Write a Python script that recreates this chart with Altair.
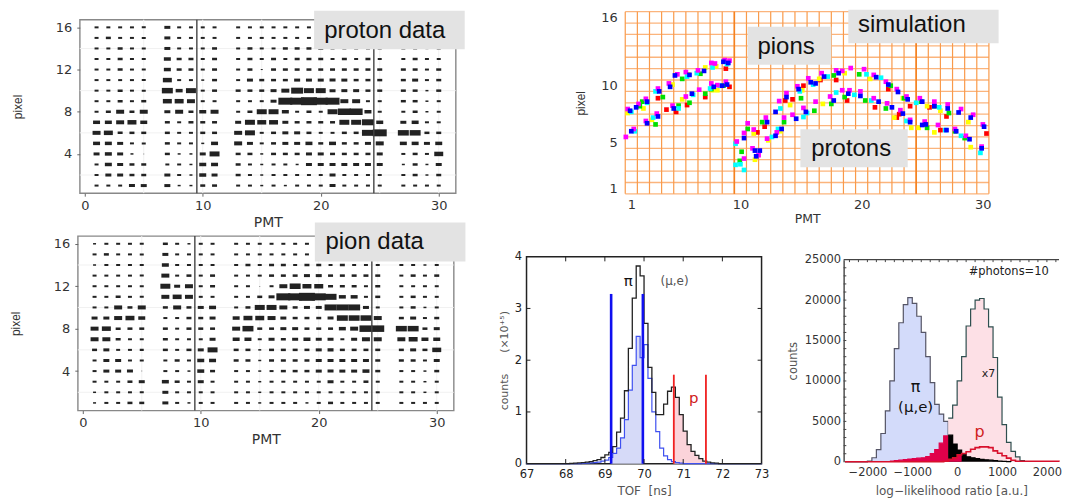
import altair as alt
import pandas as pd

PMT_COLS = [1,2,3,4,5,7,8,9,10,11,13,14,15,16,17,18,19,20,21,22,23,24,25,27,28,29,30]

# rows from pixel 16 down to pixel 1
PROTON = [
 [4,4,4,4,4, 6,4,4,4,4, 4,4,4,4,4,4,4,4,4,4,4,4,4, 4,4,3,4],
 [4,5,4,4,4, 6,4,4,4,4, 4,4,4,4,4,4,4,4,4,4,4,4,4, 4,4,3,4],
 [4,4,5,4,4, 6,4,4,4,5, 4,5,4,4,5,5,5,5,4,4,4,4,4, 4,4,3,4],
 [4,4,5,4,4, 7,5,5,4,5, 4,5,4,5,4,5,5,5,4,5,4,5,4, 4,5,4,4],
 [4,4,5,4,4, 7,5,5,4,5, 4,5,2,5,5,5,5,5,5,5,5,5,5, 5,5,4,5],
 [4,4,4,4,4, 9,4,4,3,5, 4,6,5,5,5,6,6,6,6,6,5,5,5, 5,6,4,5],
 [4,4,5,4,4, 11,7,10,4,5, 5,5,5,6,8,12,10,10,6,6,6,5,5, 5,5,3,5],
 [4,4,5,4,5, 9,9,8,4,4, 4,4,4,6,14,14,16,14,14,8,8,4,4, 5,5,3,4],
 [4,5,8,5,8, 6,8,5,7,8, 4,5,10,10,7,4,5,4,10,13,13,7,4, 4,5,3,4],
 [7,7,8,9,7, 5,4,5,5,5, 6,10,9,9,6,5,5,5,5,10,10,12,7, 6,7,4,4],
 [8,9,5,5,5, 5,4,4,5,5, 8,10,4,5,6,6,5,4,4,5,5,12,14, 11,11,5,5],
 [7,7,6,4,4, 5,4,4,3,7, 8,6,4,5,6,6,7,5,7,5,5,6,8, 7,7,6,7],
 [6,7,6,3,1, 5,3,3,6,10, 5,5,3,5,5,5,6,6,5,5,5,5,6, 4,5,4,9],
 [4,7,6,5,5, 4,4,3,7,7, 5,4,3,4,4,3,6,6,6,6,6,6,6, 3,5,3,6],
 [4,6,6,5,5, 6,4,3,7,6, 5,4,3,4,4,4,4,4,6,4,4,4,4, 4,5,3,5],
 [4,4,4,6,6, 6,3,3,5,5, 4,4,3,4,3,4,4,4,6,4,4,4,4, 4,4,4,4],
]
PION = [
 [3,4,4,4,4, 5,4,3,4,4, 4,4,4,4,4,4,4,4,4,4,4,4,4, 4,4,3,4],
 [4,5,4,4,4, 6,4,4,4,4, 4,4,4,4,4,4,4,4,4,4,4,4,4, 4,4,3,4],
 [3,4,4,4,4, 7,4,4,4,4, 4,5,4,5,5,4,5,5,4,5,4,4,4, 4,4,3,4],
 [4,4,4,4,4, 8,4,5,4,5, 4,4,4,5,5,5,6,6,5,5,5,5,5, 4,5,4,5],
 [4,4,4,4,4, 10,6,8,4,5, 4,4,1,4,8,11,9,9,5,5,5,4,5, 4,4,4,4],
 [4,4,5,4,4, 8,9,8,4,4, 4,4,5,6,14,14,16,14,12,7,7,4,5, 4,5,4,4],
 [4,4,8,5,8, 5,8,5,6,7, 4,5,10,10,8,5,6,6,12,12,12,6,4, 4,5,3,4],
 [6,6,8,9,7, 4,4,5,5,6, 7,9,9,8,6,5,5,5,6,11,11,11,8, 5,6,4,5],
 [8,9,5,5,5, 5,4,5,5,5, 8,11,5,5,6,6,5,5,5,7,8,13,13, 11,11,5,6],
 [8,8,5,4,4, 5,4,4,4,6, 7,7,4,6,5,6,7,6,6,4,6,8,8, 8,9,7,7],
 [5,6,4,4,4, 5,4,5,6,10, 5,5,3,5,5,5,5,6,6,5,5,5,5, 5,6,5,9],
 [4,6,6,4,4, 4,5,4,7,7, 5,5,3,5,5,5,5,6,6,6,6,6,5, 5,5,4,6],
 [4,6,6,6,1, 4,4,3,7,5, 4,4,3,4,5,5,5,6,6,6,6,7,5, 4,4,3,5],
 [4,4,4,5,6, 7,5,4,6,4, 4,4,3,4,4,4,4,4,6,4,4,5,4, 4,4,3,4],
 [3,4,4,4,4, 6,4,4,4,4, 4,4,3,4,4,4,4,4,4,4,4,4,4, 4,4,3,4],
 [3,4,4,5,5, 6,4,3,4,4, 4,4,3,4,4,4,3,4,5,4,4,4,4, 4,4,4,4],
]

MAGENTA = [(0.7,7.95),(1.6,8.4),(2.2,8.85),(3.2,9.75),(4.1,10.2),(4.8,11),(5.5,11.2),(6.5,11.35),(7.6,12),(7.9,11.95),(8.7,12.25),(9.1,12.2),
 (0.55,5.5),(1.2,6.2),(2.2,6.9),(3.1,7.55),(4.4,8.25),(5.5,9.05),(6.6,9.65),(7.6,10.2),(8.1,10.05),(8.8,10.35),
 (9.7,5.1),(10.3,5.85),(10.6,6.7),(11.1,6.15),(12.1,7.2),(13.2,8.65),(13.8,9.35),(14.7,9.95),(15.6,10.65),(16.7,11.1),(17.9,11.35),(18.4,11.3),(19.1,11.55),(20.2,11.45),(21,10.95),(22,10.35),(22.9,9.7),(23.7,9.05),(24.8,8.9),(26,8.6),(27.1,8.35),(28.2,7.95),(29.2,7.45),(30,6.6),
 (10.3,3.6),(11,4.5),(11.5,3.9),(12.2,5.35),(13,5.9),(13.6,7.2),(14.3,7.45),(15.2,8.05),(16.2,8.6),(17.4,9.05),(18.4,9.6),(19,9.6),(19.9,9.5),(21,8.9),(22.1,8.45),(23.2,7.85),(24,7),(25.2,6.85),(26.3,6.55),(27.7,6.2),(28.6,5.6),(29.9,4.65)]
BLUE = [(0.9,7.8),(1.4,8.1),(2.3,8.6),(3.3,9.5),(4.2,9.9),(4.6,10.9),(5.8,10.95),(7.0,11.3),(8.6,12.1),(9.0,12.0),
 (1.0,6),(2.3,6.7),(3.2,7.3),(4.5,8),(6.0,9.3),(7.8,9.9),(8.5,10),(8.9,10.1),
 (10.3,5.4),(12.2,6.8),(12.9,7.7),(13.8,9.0),(14.8,9.7),(15.8,10.3),(16.2,10.2),(16.9,10.8),(18.1,11.1),(21.2,10.75),(22.2,10.1),(23,9.45),(23.8,8.8),(25,8.6),(26,8.2),(27.1,8.0),(28,7.65),(30.1,6.4),(29,7.2),
 (11.2,4.3),(11.6,4.3),(11.3,3.8),(12.9,5.6),(13.4,6.2),(14.6,7.1),(15.4,7.7),(17.7,8.7),(18.9,9.3),(19.9,9.1),(21.4,8.6),(22.5,8.1),(23.4,7.55),(24,6.8),(25,6.55),(25.3,6.6),(27,6.1),(27.8,6.0),(28.9,5.3),(29.9,4.5)]
CYAN = [(1.0,7.7),(2.3,8.5),(3.0,9.5),(5.6,10.8),(6.4,11.1),(7.7,11.6),(8.9,11.9),(1.3,6.0),(2.8,7.2),(4.9,8.0),(6.1,9.2),(7.5,9.75),(8.3,10),(9.6,4.9),(9.6,3.05),(10,3.1),(10.3,2.6),(13.3,8.0),(14.9,9.5),(16,10.1),(17.2,10.8),(20.4,11),(21.6,10.7),(24.5,8.5),(26.4,8.1),(12.6,5.5),(13.1,6.2),(15.2,7.25),(15.5,7.6),(17.9,9.4),(19.4,9.2),(20.8,8.7),(23.7,6.9),(26.9,6.1),(28.2,5.6),(29.8,4.1)]
GREEN = [(1.7,8.2),(1.9,8.6),(3.6,9.0),(5.2,10.6),(6.7,11.05),(3.0,6.6),(4.9,8.25),(5.8,8.5),(7.1,9.3),(7.6,9.7),(8.6,10),(9.95,3.4),(10.1,4.2),(10.6,6.2),(11.8,6.8),(13.6,6.8),(15,8.9),(17.7,10.9),(19.8,11),(22.4,10),(23.5,8.9),(24.9,8.6),(26,8.2),(27.2,7.6),(16.1,7.8),(17.5,8.4),(18.6,9),(20.3,8.7),(22,8),(25.4,6.3),(27.7,6.0),(28.5,5.4)]
YELLOW = [(0.7,7.6),(2.0,8.0),(4.4,10.1),(5.7,11.0),(7.1,11.6),(8,11.7),(2.7,7.0),(5.2,8.8),(7.7,9.6),(8.1,9.6),(11.2,3.5),(11.1,5.8),(12.3,5.2),(14.1,8.3),(15.1,9.6),(16.5,10.6),(18.6,11.1),(20.7,10.6),(23.4,8.9),(25.4,8.2),(26.5,7.8),(28.8,6.8),(13.3,6),(16.8,8.4),(22.7,7.2),(24.1,6.3),(24.7,6.3),(26,5.9),(29,4.6)]
RED = [(3.2,8.9),(4.7,7.7),(8.8,11.5),(9.1,9.9),(3.9,7.9),(5.6,8.3),(7.1,9),(11.4,5.9),(12.0,6.4),(13.7,8.7),(14.3,8.8),(15.2,10),(16.6,10.5),(17.9,10.5),(22.2,9.7),(24,8.2),(25.6,8.1),(27,7.3),(30.3,5.8),(18.8,8.7),(21.1,8.1),(22.9,7.2),(23.1,7.5),(26.5,6.1)]

TOF_X = [67.0,68.0,68.1,68.2,68.3,68.4,68.5,68.6,68.7,68.8,68.9,69.0,69.1,69.2,69.3,69.4,69.5,69.6,69.7,69.8,69.9,70.0,70.1,70.2,70.3,70.4,70.5,70.6,70.7,70.8,70.9,71.0,71.1,71.2,71.3,71.4,71.5,71.6,71.7,71.8,71.9,73.0]
TOF_ALL = [0,.003,.005,.01,.015,.02,.03,.04,.06,.08,.12,.17,.22,.33,.61,.88,1.41,2.23,3.2,3.82,3.63,2.71,1.86,1.38,.95,.95,1.15,1.4,1.48,1.28,.95,.63,.37,.24,.16,.1,.05,.03,.015,.01,0,0]
TOF_PI = [0,0,0,0,0,.005,.01,.015,.02,.03,.05,.07,.12,.2,.3,.5,.85,1.42,1.9,2.46,2.05,2.3,1.65,1.0,.62,.3,.15,.08,.04,.02,.01,0,0,0,0,0,0,0,0,0,0,0]

LL_X = [-2500,-2000,-1900,-1800,-1700,-1600,-1500,-1400,-1300,-1200,-1100,-1000,-900,-800,-700,-600,-500,-400,-300,-200]
LL_PI = [0,100,500,1500,3500,6300,10000,14000,17200,19450,20300,19600,18000,16000,13000,9800,7100,5900,5000,0]
LL_P_X = [-200,-100,0,100,200,300,400,500,600,700,800,900,1000,1100,1200,1300,1400,1500]
LL_P = [5400,7000,10000,13000,16800,18900,20000,20200,18900,16700,12900,8000,4600,2400,1300,600,150,0]
LL_RED_X = [-1500,-1400,-1300,-1200,-1100,-1000,-900,-800,-700,-600,-500,-400,-300,-200]
LL_RED = [100,150,200,280,350,400,450,500,650,1000,1500,2300,3200,0]
LL_BLK_X = [-200,-100,0,100,200,300,400,500,600,700,800,900,1000,1100,1200]
LL_BLK = [3300,2200,1450,950,620,500,400,300,250,200,150,100,60,30,0]
LL_LINE_X = [-2500,-400,-300,-200,-100,0,100,200,300,400,500,600,700,800,900,1000,1100,1200,1300,2270]
LL_LINE = [0,0,60,300,500,860,1030,1250,1560,1750,1850,1850,1750,1350,1050,740,450,200,60,0]

SANS = "DejaVu Sans"
BOX = "#e3e3e3"
NB = "\u00a0"


def blank(w, h):
    return alt.Chart(pd.DataFrame({"a": [0]})).mark_point(opacity=0).encode(
        x=alt.value(0), y=alt.value(0)).properties(width=w, height=h)


def label_box(x, x2, y, y2, tx, ty, text, xs, ys):
    d = pd.DataFrame({"x": [x], "x2": [x2], "y": [y], "y2": [y2], "tx": [tx], "ty": [ty], "t": [text]})
    r = alt.Chart(d).mark_rect(color=BOX).encode(
        x=alt.X("x:Q", scale=xs), x2="x2", y=alt.Y("y:Q", scale=ys), y2="y2")
    t = alt.Chart(d).mark_text(font="Liberation Sans", fontSize=24, align="left", baseline="middle", color="#111").encode(
        x=alt.X("tx:Q", scale=xs), y=alt.Y("ty:Q", scale=ys), text="t:N")
    return [r, t]


def cell_panel(matrix, box, h):
    rows = []
    for i, row in enumerate(matrix):
        for col, v in zip(PMT_COLS, row):
            rows.append({"p": col, "r": 16 - i, "v": v})
    df = pd.DataFrame(rows)
    xs = alt.Scale(domain=[-0.42, 31.44], nice=False, zero=False)
    ys = alt.Scale(domain=[0.28, 16.73], nice=False, zero=False)
    xpx = 11.83
    ypx = 10.58
    df["x0"] = df.p - df.v / 2 / xpx
    df["x1"] = df.p + df.v / 2 / xpx
    df["y0"] = df.r - df.v / 4 / ypx
    df["y1"] = df.r + df.v / 4 / ypx
    faint_v = alt.Chart(pd.DataFrame({"x": [5, 10, 15, 20, 25, 30]})).mark_rule(color="#f1f1f1").encode(
        x=alt.X("x:Q", scale=xs, title="PMT", axis=alt.Axis(
            values=[0, 10, 20, 30], grid=False, domain=False, tickColor="#666", tickSize=3,
            labelFont=SANS, labelFontSize=13, labelColor="#333", labelPadding=3,
            titleFont=SANS, titleFontSize=14, titleColor="#333", titleFontWeight="normal", titlePadding=3)))
    faint_h = alt.Chart(pd.DataFrame({"y": [2, 6, 10, 14]})).mark_rule(color="#f1f1f1").encode(
        y=alt.Y("y:Q", scale=ys, title="pixel", axis=alt.Axis(
            values=[4, 8, 12, 16], grid=False, domain=False, tickColor="#666", tickSize=3,
            labelFont=SANS, labelFontSize=13, labelColor="#333", labelPadding=5,
            titleFont="Liberation Sans", titleFontSize=12, titleColor="#333", titleFontWeight="normal", titlePadding=31)))
    cells = alt.Chart(df).mark_rect(color="#222222").encode(
        x=alt.X("x0:Q", scale=xs), x2="x1", y=alt.Y("y0:Q", scale=ys), y2="y1")
    lines = alt.Chart(pd.DataFrame({"x": [9.5, 24.5]})).mark_rule(color="#444444", strokeWidth=1.4).encode(
        x=alt.X("x:Q", scale=xs))
    return alt.layer(faint_v, faint_h, cells, lines, *label_box(*box, xs, ys)).properties(
        width=377, height=h, view=alt.ViewBackground(stroke="#888888", strokeWidth=1.4))


def sim_panel():
    xs = alt.Scale(domain=[0.5, 30.5], nice=False, zero=False)
    ys = alt.Scale(domain=[0.5, 16.5], nice=False, zero=False)
    hv = [0.5 + i for i in range(17)]
    vv = [0.5 + i for i in range(31)]
    hl = alt.Chart(pd.DataFrame({"y": hv})).mark_rule(color="#fbb47c", strokeWidth=1.3).encode(
        y=alt.Y("y:Q", scale=ys, title="pixel", axis=alt.Axis(
            values=[1, 5, 10, 16], grid=False, domain=False, ticks=False,
            labelFont=SANS, labelFontSize=13, labelColor="#333", labelPadding=8,
            titleFont="Liberation Sans", titleFontSize=12, titleColor="#333", titleFontWeight="normal", titlePadding=13)))
    vl = alt.Chart(pd.DataFrame({"x": vv})).mark_rule(color="#f99a4a", strokeWidth=1.2).encode(
        x=alt.X("x:Q", scale=xs, title="PMT", axis=alt.Axis(
            values=[1, 10, 20, 30], grid=False, domain=False, ticks=False,
            labelFont=SANS, labelFontSize=13, labelColor="#333", labelPadding=5,
            titleFont=SANS, titleFontSize=12.5, titleColor="#333", titleFontWeight="normal", titlePadding=1)))
    hv2 = alt.Chart(pd.DataFrame({"x": [9.5, 24.5]})).mark_rule(color="#f58220", strokeWidth=1.6).encode(
        x=alt.X("x:Q", scale=xs))
    layers = [hl, vl, hv2]
    for pts, col in [(RED, "#ff0000"), (YELLOW, "#ffff00"), (GREEN, "#00e000"), (CYAN, "#00ffff"),
                     (MAGENTA, "#ff00ff"), (BLUE, "#0000ff")]:
        d = pd.DataFrame(pts, columns=["x", "y"])
        layers.append(alt.Chart(d).mark_square(color=col, size=22, opacity=1).encode(
            x=alt.X("x:Q", scale=xs), y=alt.Y("y:Q", scale=ys)))
    layers += label_box(18.9, 31.3, 16.68, 13.72, 19.7, 15.36, "simulation", xs, ys)
    layers += label_box(10.59, 17.5, 15.18, 11.85, 11.41, 13.43, "pions", xs, ys)
    layers += label_box(14.95, 23.8, 6.18, 2.84, 15.85, 4.48, "protons", xs, ys)
    return alt.layer(*layers).properties(width=364.7, height=182.7, view=alt.ViewBackground(stroke=None))


def clip_steps(xs_list, ys_list, lo, hi):
    out_x, out_y = [lo], [None]
    for a, b in zip(xs_list, ys_list):
        if a <= lo:
            out_y[0] = b
        elif a < hi:
            out_x.append(a)
            out_y.append(b)
    out_x.append(hi)
    out_y.append(0)
    return pd.DataFrame({"x": out_x, "y": out_y})


def tof_panel():
    xs = alt.Scale(domain=[67, 73], nice=False, zero=False)
    ys = alt.Scale(domain=[0, 4], nice=False, zero=False)
    xax = alt.Axis(values=list(range(67, 74)), tickCount=8, grid=False, ticks=False, domain=False, labelOverlap=False, labelFlush=False,
                   labelFont=SANS, labelFontSize=11.5, labelColor="#222", labelPadding=5,
                   titleFont=SANS, titleFontSize=12, titleColor="#555", titleFontWeight="normal", titlePadding=5)
    yax = alt.Axis(values=[0, 1, 2, 3, 4], grid=False, ticks=False, domain=False, format="d",
                   labelFont=SANS, labelFontSize=11.5, labelColor="#222", labelPadding=5,
                   titleFont=SANS, titleFontSize=11, titleColor="#555", titleFontWeight="normal", titlePadding=5)
    d_all = pd.DataFrame({"x": TOF_X, "y": TOF_ALL})
    d_pi = pd.DataFrame({"x": TOF_X, "y": TOF_PI})
    fill_b = alt.Chart(clip_steps(TOF_X, TOF_PI, 69.16, 69.97)).mark_area(color="#d6daf8", interpolate="step-after").encode(
        x=alt.X("x:Q", scale=xs, title="TOF" + NB * 2 + "[ns]", axis=xax),
        y=alt.Y("y:Q", scale=ys, title="counts" + NB * 6 + "(×10⁺⁵)", axis=yax))
    fill_r = alt.Chart(clip_steps(TOF_X, TOF_ALL, 70.76, 71.58)).mark_area(color="#fbd3da", interpolate="step-after").encode(
        x=alt.X("x:Q", scale=xs), y=alt.Y("y:Q", scale=ys))
    l_pi = alt.Chart(d_pi).mark_line(color="#3f51f0", strokeWidth=1.2, interpolate="step-after").encode(
        x=alt.X("x:Q", scale=xs), y=alt.Y("y:Q", scale=ys))
    l_all = alt.Chart(d_all).mark_line(color="#222222", strokeWidth=1.3, interpolate="step-after").encode(
        x=alt.X("x:Q", scale=xs), y=alt.Y("y:Q", scale=ys))
    bl = alt.Chart(pd.DataFrame({"x": [69.16, 69.97], "y": [0, 0], "y2": [3.28, 3.28]})).mark_rule(
        color="#1010f0", strokeWidth=2.6).encode(x=alt.X("x:Q", scale=xs), y=alt.Y("y:Q", scale=ys), y2="y2")
    rl = alt.Chart(pd.DataFrame({"x": [70.76, 71.58], "y": [0, 0], "y2": [1.72, 1.72]})).mark_rule(
        color="#f02020", strokeWidth=1.8).encode(x=alt.X("x:Q", scale=xs), y=alt.Y("y:Q", scale=ys), y2="y2")
    tb = alt.Chart(pd.DataFrame({"x": list(range(68, 73)), "y": [0]*5, "y2": [0.09]*5})).mark_rule(color="#222").encode(
        x=alt.X("x:Q", scale=xs), y=alt.Y("y:Q", scale=ys), y2="y2")
    tt = alt.Chart(pd.DataFrame({"x": list(range(68, 73)), "y": [4]*5, "y2": [3.91]*5})).mark_rule(color="#222").encode(
        x=alt.X("x:Q", scale=xs), y=alt.Y("y:Q", scale=ys), y2="y2")
    tl = alt.Chart(pd.DataFrame({"y": [1, 2, 3], "x": [67]*3, "x2": [67.1]*3})).mark_rule(color="#222").encode(
        y=alt.Y("y:Q", scale=ys), x=alt.X("x:Q", scale=xs), x2="x2")
    tr = alt.Chart(pd.DataFrame({"y": [1, 2, 3], "x": [73]*3, "x2": [72.9]*3})).mark_rule(color="#222").encode(
        y=alt.Y("y:Q", scale=ys), x=alt.X("x:Q", scale=xs), x2="x2")
    txt = alt.Chart(pd.DataFrame({"x": [69.6, 70.78, 71.27], "y": [3.53, 3.53, 1.27], "t": ["π", "(μ,e)", "p"],
                                  "c": ["#111111", "#555555", "#d02020"], "s": [15, 12, 15]})).mark_text(
        font=SANS).encode(x=alt.X("x:Q", scale=xs), y=alt.Y("y:Q", scale=ys), text="t:N",
                          color=alt.Color("c:N", scale=None), size=alt.Size("s:Q", scale=None))
    return alt.layer(fill_b, fill_r, l_pi, l_all, bl, rl, tb, tt, tl, tr, txt).properties(
        width=235.7, height=207.6, view=alt.ViewBackground(stroke="#222222", strokeWidth=1.5))


XMAX = 2270
def ll_panel():
    xs = alt.Scale(domain=[-2530, XMAX], nice=False, zero=False)
    ys = alt.Scale(domain=[0, 25000], nice=False, zero=False)
    xax = alt.Axis(values=[-2000, -1000, 0, 1000, 2000], grid=False, ticks=False, domain=False, labelOverlap=False, labelFlush=False,
                   labelFont=SANS, labelFontSize=11.5, labelColor="#333", labelPadding=5,
                   format="d",
                   titleFont=SANS, titleFontSize=12, titleColor="#555", titleFontWeight="normal", titlePadding=7)
    yax = alt.Axis(values=[0, 5000, 10000, 15000, 20000, 25000], grid=False, ticks=False, domainColor="#444", domainWidth=1.4,
                   format="d",
                   labelFont=SANS, labelFontSize=11.5, labelColor="#333", labelPadding=3,
                   titleFont=SANS, titleFontSize=11.5, titleColor="#555", titleFontWeight="normal", titlePadding=6)
    def step(x, y, color, line):
        d = pd.DataFrame({"x": x, "y": y})
        return [alt.Chart(d).mark_area(color=color, interpolate="step-after").encode(
                    x=alt.X("x:Q", scale=xs), y=alt.Y("y:Q", scale=ys)),
                alt.Chart(d).mark_line(color=line, strokeWidth=1.2, interpolate="step-after").encode(
                    x=alt.X("x:Q", scale=xs), y=alt.Y("y:Q", scale=ys))]
    base = alt.Chart(pd.DataFrame({"y": [25000], "x": [-2530], "x2": [XMAX]})).mark_rule(color="#444", strokeWidth=1.2).encode(
        x=alt.X("x:Q", scale=xs, title="log−likelihood ratio [a.u.]", axis=xax), x2="x2",
        y=alt.Y("y:Q", scale=ys, title="counts", axis=yax))
    layers = [base]
    layers += step(LL_X, LL_PI, "#d3dbfa", "#555566")
    layers += step(LL_P_X, LL_P, "#fde0e6", "#2f4f4f")
    layers += step(LL_RED_X, LL_RED, "#e0004a", "#e0004a")
    layers += step(LL_BLK_X, LL_BLK, "#000000", "#000000")
    d_line = pd.DataFrame({"x": LL_LINE_X, "y": LL_LINE})
    layers.append(alt.Chart(d_line[(d_line.x >= -200) & (d_line.x <= 100)]).mark_area(color="#e0004a", interpolate="step-after").encode(
        x=alt.X("x:Q", scale=xs), y=alt.Y("y:Q", scale=ys)))
    layers.append(alt.Chart(d_line).mark_line(color="#d8102c", strokeWidth=1.6, interpolate="step-after").encode(
        x=alt.X("x:Q", scale=xs), y=alt.Y("y:Q", scale=ys)))
    minor_x = [-2400 + 200 * i for i in range(24)]
    layers.append(alt.Chart(pd.DataFrame({"x": minor_x, "y": [25000]*24, "y2": [24700]*24})).mark_rule(color="#444").encode(
        x=alt.X("x:Q", scale=xs), y=alt.Y("y:Q", scale=ys), y2="y2"))
    minor_y = [1000 * i for i in range(1, 25)]
    layers.append(alt.Chart(pd.DataFrame({"y": minor_y, "x": [-2530]*24, "x2": [-2470]*24})).mark_rule(color="#444").encode(
        y=alt.Y("y:Q", scale=ys), x=alt.X("x:Q", scale=xs), x2="x2"))
    txt = pd.DataFrame({"x": [1150, -926, -926, 700, 500], "y": [23470, 9300, 6800, 10800, 3740],
                        "t": ["#photons=10", "π", "(μ,e)", "x7", "p"],
                        "c": ["#222222", "#111111", "#111111", "#222222", "#d02020"],
                        "s": [11.5, 16, 15, 11, 16]})
    layers.append(alt.Chart(txt).mark_text(font=SANS).encode(
        x=alt.X("x:Q", scale=xs), y=alt.Y("y:Q", scale=ys), text="t:N",
        color=alt.Color("c:N", scale=None), size=alt.Size("s:Q", scale=None)))
    return alt.layer(*layers).properties(width=216, height=202.7, view=alt.ViewBackground(stroke=None))


p1 = cell_panel(PROTON, (19.44, 32.2, 17.58, 13.92, 20.29, 15.69, "proton data"), 174)
p2 = cell_panel(PION, (19.67, 32.43, 18.01, 14.33, 20.57, 16.12, "pion data"), 175)
p3 = sim_panel()
p4 = tof_panel()
p5 = ll_panel()

# with flush bounds a nested concat counts as zero-sized, so spacing after it is its full offset
F = "flush"
left = alt.vconcat(
    alt.vconcat(blank(10, 8), alt.hconcat(blank(1.7, 10), p1, spacing=0, bounds=F), spacing=0, bounds=F),
    p2, spacing=225, bounds=F)
right = alt.vconcat(
    alt.hconcat(blank(99, 10), p3, spacing=0, bounds=F),
    alt.hconcat(p4, alt.vconcat(blank(10, 2.6), p5, spacing=0, bounds=F), spacing=82, bounds=F),
    spacing=245.7, bounds=F)
chart = (alt.hconcat(left, right, spacing=450, bounds=F).properties(padding=0)
         .configure_view(stroke=None).configure_axis(labelFlush=False, labelOverlap=False))
chart.save("out.html", embed_options={"renderer": "svg", "actions": False})
